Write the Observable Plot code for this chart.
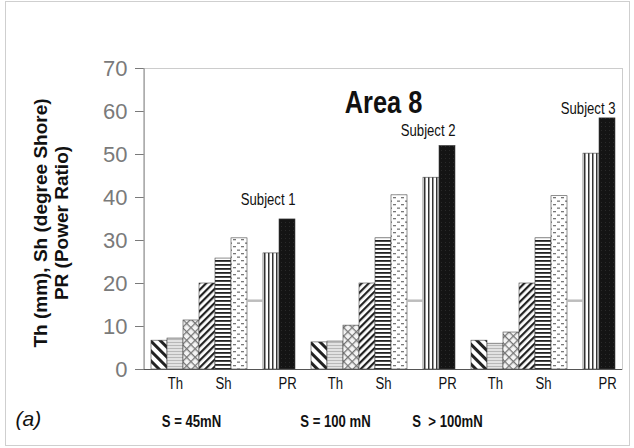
<!DOCTYPE html>
<html><head><meta charset="utf-8">
<script src="https://cdn.jsdelivr.net/npm/d3@7"></script>
<script src="https://cdn.jsdelivr.net/npm/@observablehq/plot@0.6"></script>
<style>
body{margin:0;background:#fff;}
#wrap{position:relative;width:634px;height:448px;overflow:hidden;}
#border{position:absolute;left:5px;top:1px;width:625px;height:445px;border:1.5px solid #cfcfcf;box-sizing:border-box;pointer-events:none;}
</style></head><body><div id="wrap"><div id="chart"></div><div id="border"></div></div>
<script>
// ---- data ----
const groups = ["S = 45mN", "S = 100 mN", "S  > 100mN"];
const subjects = ["Subject 1", "Subject 2", "Subject 3"];
const seriesKeys = ["Th1", "Th2", "Th3", "Sh1", "Sh2", "Sh3", "ref", "PR1", "PR2"];
const tickLabelBySeries = {Th2: "Th", Sh2: "Sh", PR2: "PR"};
const th1 = [6.7, 6.3, 6.7];
const th2 = [7.2, 6.5, 6.0];
const th3 = [11.4, 10.2, 8.6];
const sh1 = [20, 20, 20];
const sh2 = [25.8, 30.5, 30.5];
const sh3 = [30.5, 40.5, 40.3];
const refLine = [16, 16, 16];
const pr1 = [27, 44.6, 50.2];
const pr2 = [34.9, 52, 58.4];
const subjectLabelY = [39.5, 55.6, 60.7];
const title = "Area 8";
const titleAt = {key: "1|Sh2", value: 61.9};
const yTicks = [0, 10, 20, 30, 40, 50, 60, 70];
const yTitle = "Th (mm), Sh (degree Shore)\nPR (Power Ratio)";
const panelLabel = "(a)";

// ---- build table ----
const seriesValues = {Th1: th1, Th2: th2, Th3: th3, Sh1: sh1, Sh2: sh2, Sh3: sh3, ref: refLine, PR1: pr1, PR2: pr2};
const rows = [];
groups.forEach((g, i) => seriesKeys.forEach(s => rows.push({key: `${i}|${s}`, series: s, group: i, value: seriesValues[s][i]})));
const xDomain = groups.flatMap((g, i) => [...seriesKeys.map(s => `${i}|${s}`), ...(i < groups.length - 1 ? [`gap${i}`] : [])]);
const subjectRows = subjects.map((t, i) => ({key: `${i}|PR2`, value: subjectLabelY[i], text: t}));
const groupLabelKeys = ["0|Th3", "1|Th2", "1|PR2"];
const groupRows = groups.map((t, i) => ({key: groupLabelKeys[i], text: t}));

const sans = "'Liberation Sans', Arial, sans-serif";

const chart = Plot.plot({
  width: 634, height: 448,
  marginTop: 68, marginBottom: 79, marginLeft: 144, marginRight: 12,
  style: {fontFamily: sans, background: "white", overflow: "visible"},
  x: {type: "band", domain: xDomain, padding: 0, axis: null},
  y: {domain: [0, 70], axis: null},
  marks: [
    Plot.frame({stroke: "#cccccc"}),
    ...seriesKeys.filter(s => s !== "ref").map(s =>
      Plot.barY(rows.filter(d => d.series === s), {x: "key", y: "value", fill: `url(#p${s})`, stroke: "#444", strokeWidth: 0.6})),
    Plot.tickY(rows.filter(d => d.series === "ref"), {x: "key", y: "value", stroke: "#bdbdbd", strokeWidth: 2.5}),
    Plot.axisY(yTicks, {tickSize: 9, tickPadding: 8, fontSize: 22, color: "#7a7a7a", label: null}),
    Plot.ruleY([0], {stroke: "#555", strokeWidth: 1.2}),
    Plot.text(rows.filter(d => tickLabelBySeries[d.series]), {x: "key", text: d => tickLabelBySeries[d.series], frameAnchor: "bottom", dy: 19, fontSize: 16, fill: "#111", className: "narrow"}),
    Plot.text(groupRows, {x: "key", text: "text", frameAnchor: "bottom", dy: 57, fontSize: 16, fontWeight: "bold", fill: "#111", className: "narrow"}),
    Plot.text(subjectRows, {x: "key", y: "value", text: "text", textAnchor: "end", dx: 8, fontSize: 16, fill: "#111", className: "narrow"}),
    Plot.text([title], {x: () => titleAt.key, y: () => titleAt.value, text: d => d, fontSize: 31, fontWeight: "bold", fill: "#111", className: "narrow"}),
    Plot.text([yTitle], {text: d => d, frameAnchor: "left", textAnchor: "middle", rotate: -90, dx: -94, dy: 4, lineHeight: 1.15, fontSize: 19, fontWeight: "bold", fill: "#111"}),
    Plot.text([panelLabel], {text: d => d, frameAnchor: "bottom-left", textAnchor: "start", dx: -129, dy: 56, fontSize: 21, fontStyle: "italic", fill: "#111"})
  ]
});

const svg = d3.select(chart);
// condense the narrow-font labels (no narrow face installed): scale about each text's anchor
svg.selectAll("g.narrow text").each(function() {
  const t = d3.select(this);
  const tr = t.attr("transform");
  if (tr) {
    t.attr("transform", tr + " scale(0.82,1)");
  } else {
    const x = +t.attr("x") || 0, y = +t.attr("y") || 0;
    t.attr("x", null).attr("y", null).attr("transform", `translate(${x},${y}) scale(0.82,1)`);
  }
});
// left axis line
svg.append("line").attr("x1", 144).attr("x2", 144).attr("y1", 68).attr("y2", 369).attr("stroke", "#999").attr("stroke-width", 1.2);

svg.insert("defs", ":first-child").html(`
<pattern id="pTh1" width="7" height="7" patternUnits="userSpaceOnUse" patternTransform="rotate(45)">
  <rect width="7" height="7" fill="#fff"/><rect width="7" height="3" fill="#222"/></pattern>
<pattern id="pTh2" width="4" height="3" patternUnits="userSpaceOnUse">
  <rect width="4" height="3" fill="#e2e2e2"/><rect width="4" height="1" fill="#b8b8b8"/></pattern>
<pattern id="pTh3" width="6" height="6" patternUnits="userSpaceOnUse" patternTransform="rotate(45)">
  <rect width="6" height="6" fill="#f4f4f4"/><rect width="6" height="1.3" fill="#777"/><rect width="1.3" height="6" fill="#777"/></pattern>
<pattern id="pSh1" width="5" height="5" patternUnits="userSpaceOnUse" patternTransform="rotate(-45)">
  <rect width="5" height="5" fill="#fff"/><rect width="5" height="2.2" fill="#222"/></pattern>
<pattern id="pSh2" width="4" height="4" patternUnits="userSpaceOnUse">
  <rect width="4" height="4" fill="#fff"/><rect width="4" height="1.8" fill="#222"/></pattern>
<pattern id="pSh3" width="8" height="7" patternUnits="userSpaceOnUse">
  <rect width="8" height="7" fill="#fff"/><rect x="1" y="1" width="3" height="1.3" fill="#777"/><rect x="5" y="4.5" width="3" height="1.3" fill="#777"/></pattern>
<pattern id="pPR1" width="4" height="4" patternUnits="userSpaceOnUse">
  <rect width="4" height="4" fill="#fff"/><rect width="1.5" height="4" fill="#333"/></pattern>
<pattern id="pPR2" width="4" height="4" patternUnits="userSpaceOnUse">
  <rect width="4" height="4" fill="#141414"/><rect x="1" y="2" width="1" height="1" fill="#2a2a2a"/></pattern>
`);

document.getElementById("chart").append(chart);
</script></body></html>
